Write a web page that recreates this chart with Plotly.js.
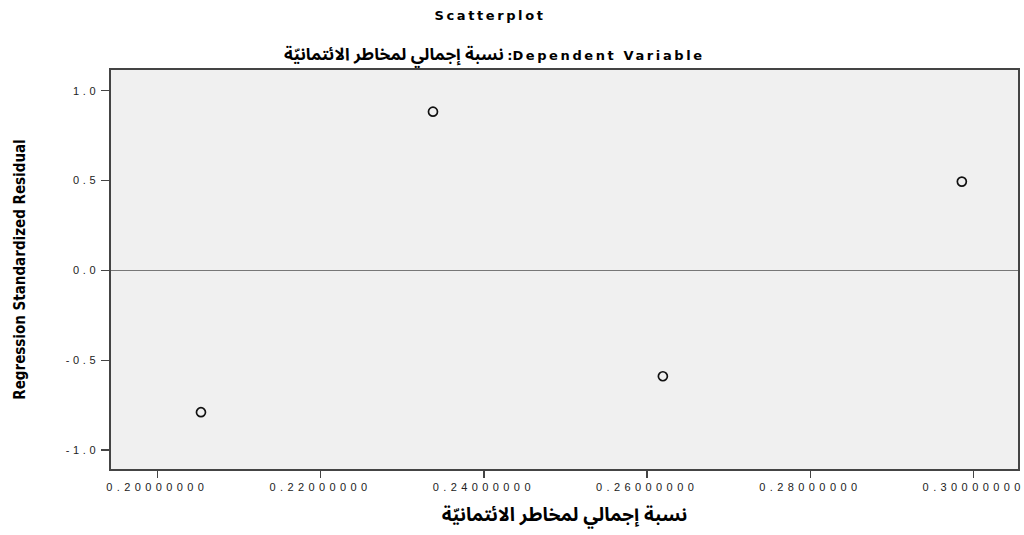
<!DOCTYPE html>
<html>
<head>
<meta charset="utf-8">
<script src="https://cdn.plot.ly/plotly-3.0.1.min.js"></script>
<style>
html,body{margin:0;padding:0;background:#fff;}
#chart{width:1024px;height:535px;}
.xtick text{letter-spacing:4.4px;}
.ytick text{letter-spacing:3.6px;}
.gtitle{letter-spacing:2.6px;}
</style>
</head>
<body>
<div id="chart"></div>
<script>
// Data
var xValues = [0.20535, 0.23377, 0.26193, 0.29855];
var residuals = [-0.789, 0.883, -0.589, 0.494];
var xTickVals = [0.20, 0.22, 0.24, 0.26, 0.28, 0.30];
var xTickText = ["0.20000000", "0.22000000", "0.24000000", "0.26000000", "0.28000000", "0.30000000"];
var yTickVals = [-1.0, -0.5, 0.0, 0.5, 1.0];
var yTickText = ["-1.0", "-0.5", "0.0", "0.5", "1.0"];
var chartTitle = "Scatterplot";
var subTitleArabic = "نسبة إجمالي لمخاطر الائتمانيّة";
var subTitleLatin = ":Dependent Variable";
var xTitle = "نسبة إجمالي لمخاطر الائتمانيّة";
var yTitle = "Regression Standardized Residual";

var arabicFont = "Noto Sans Arabic, Noto Naskh Arabic, DejaVu Sans, Arial, sans-serif";

var trace = {
  x: xValues,
  y: residuals,
  type: "scatter",
  mode: "markers",
  marker: {symbol: "circle-open", size: 9, color: "#111", line: {width: 1.7, color: "#111"}},
  hoverinfo: "x+y",
  showlegend: false
};

var layout = {
  width: 1024,
  height: 535,
  margin: {l: 111, r: 6, t: 70, b: 66},
  paper_bgcolor: "#ffffff",
  plot_bgcolor: "#f0f0f0",
  title: {
    text: chartTitle,
    font: {family: "DejaVu Sans, Arial, sans-serif", size: 13, color: "#000", weight: "bold"},
    x: 490 / 1024, xanchor: "center", xref: "container",
    y: 1 - 15 / 535, yanchor: "middle", yref: "container"
  },
  annotations: [{
    text: '<span style="font-size:17px;letter-spacing:0.6px">' + subTitleArabic + '</span> <span style="font-family:\'DejaVu Sans\',sans-serif;font-size:13px;letter-spacing:2.6px">' + subTitleLatin + '</span>',
    xref: "paper", yref: "paper",
    x: (494 - 111) / 907, y: 1.0, xanchor: "center", yanchor: "bottom", yshift: -5,
    showarrow: false,
    font: {family: arabicFont, size: 13, color: "#000", weight: "bold"}
  }],
  xaxis: {
    range: [0.19433, 0.30543],
    tickmode: "array",
    tickvals: xTickVals,
    ticktext: xTickText,
    ticks: "outside",
    ticklen: 7,
    tickwidth: 1.5,
    tickcolor: "#444",
    ticklabeloverflow: "allow",
    tickfont: {family: "Liberation Sans, Arial, sans-serif", size: 11, color: "#222"},
    showgrid: false,
    zeroline: false,
    showline: true,
    linecolor: "#444",
    linewidth: 1.6,
    mirror: true,
    title: {
      text: xTitle,
      font: {family: arabicFont, size: 19, color: "#000", weight: "bold"},
      standoff: 20
    }
  },
  yaxis: {
    range: [-1.105, 1.115],
    tickmode: "array",
    tickvals: yTickVals,
    ticktext: yTickText,
    ticks: "outside",
    ticklen: 8,
    tickwidth: 1.5,
    tickcolor: "#444",
    ticklabeloverflow: "allow",
    tickfont: {family: "Liberation Sans, Arial, sans-serif", size: 11, color: "#222"},
    showgrid: false,
    zeroline: true,
    zerolinecolor: "#777",
    zerolinewidth: 1.2,
    showline: true,
    linecolor: "#444",
    linewidth: 1.6,
    mirror: true,
    title: {
      text: yTitle,
      font: {family: "DejaVu Sans Condensed, Liberation Sans Narrow, Arial Narrow, sans-serif", size: 15, color: "#000", weight: "bold"},
      standoff: 36
    }
  }
};

Plotly.newPlot("chart", [trace], layout, {displayModeBar: false, staticPlot: true});
</script>
</body>
</html>
